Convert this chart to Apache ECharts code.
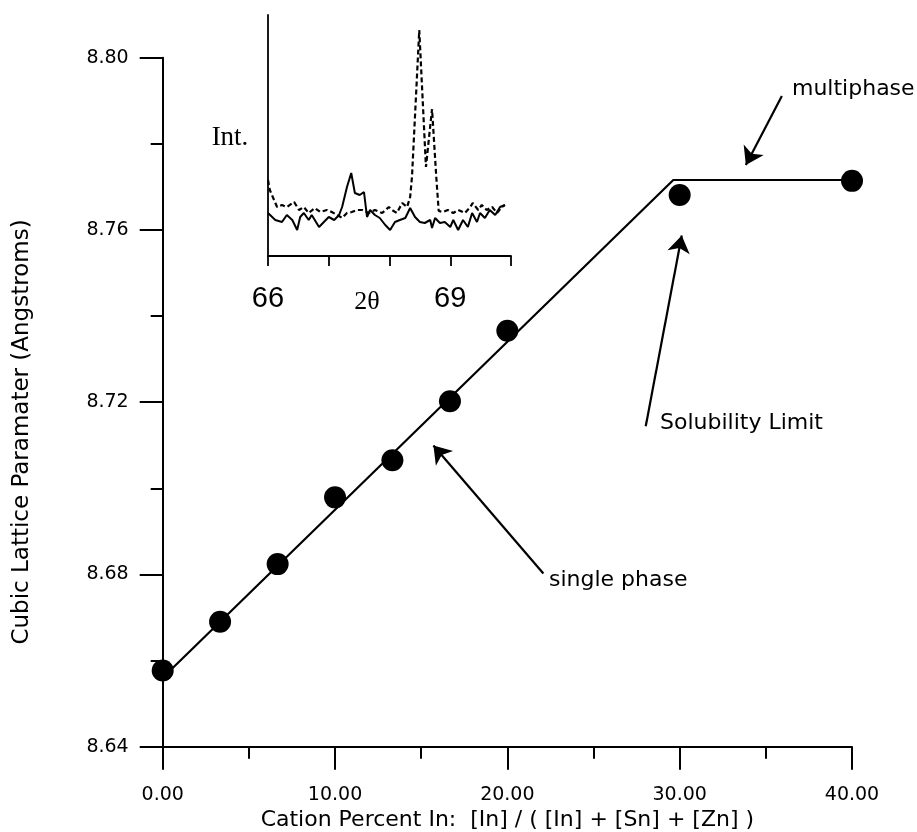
<!DOCTYPE html>
<html>
<head>
<meta charset="utf-8">
<script src="https://cdn.jsdelivr.net/npm/echarts@6/dist/echarts.min.js"></script>
<style>
html, body { margin: 0; padding: 0; background: #fff; }
#chart { width: 917px; height: 832px; }
</style>
</head>
<body>
<div id="chart"></div>
<script>
// main plot: lattice parameter vs cation percent In
var cationPct = [0, 3.33, 6.67, 10, 13.33, 16.67, 20, 30, 40];
var latticeParam = [8.6577, 8.669, 8.6824, 8.6979, 8.7065, 8.7202, 8.7366, 8.7681, 8.7714];
// guide line (single phase slope, then flat multiphase)
var fitX = [0, 29.63, 40];
var fitY = [8.656, 8.7716, 8.7716];

// inset XRD scans, 2-theta vs intensity (arbitrary)
var solidX = [66.00, 66.12, 66.23, 66.31, 66.40, 66.48, 66.53, 66.59, 66.67, 66.72, 66.84, 66.92, 67.00, 67.09, 67.17, 67.22, 67.30, 67.37, 67.43, 67.51, 67.58, 67.63, 67.68, 67.76, 67.84, 67.93, 68.01, 68.09, 68.17, 68.26, 68.34, 68.42, 68.50, 68.58, 68.67, 68.70, 68.75, 68.83, 68.91, 69.00, 69.05, 69.13, 69.21, 69.29, 69.36, 69.44, 69.49, 69.57, 69.65, 69.74, 69.82, 69.90];
var solidY = [43, 36, 34, 41, 36, 26, 39, 43, 36, 41, 29, 34, 39, 36, 41, 49, 69, 83, 63, 61, 64, 39, 46, 41, 38, 31, 26, 34, 36, 38, 48, 39, 34, 33, 36, 28, 38, 33, 34, 29, 36, 26, 36, 29, 43, 34, 43, 38, 46, 41, 49, 51];
var dashX = [66.00, 66.03, 66.10, 66.15, 66.23, 66.31, 66.43, 66.51, 66.59, 66.67, 66.77, 66.86, 66.97, 67.05, 67.14, 67.22, 67.30, 67.38, 67.47, 67.55, 67.66, 67.76, 67.88, 67.99, 68.04, 68.12, 68.21, 68.29, 68.34, 68.37, 68.49, 68.60, 68.70, 68.77, 68.81, 68.88, 68.96, 69.05, 69.13, 69.24, 69.33, 69.37, 69.46, 69.52, 69.60, 69.69, 69.77, 69.85, 69.90];
var dashY = [76, 66, 56, 49, 51, 49, 54, 46, 49, 43, 48, 44, 46, 44, 41, 38, 43, 44, 46, 46, 43, 46, 43, 49, 46, 43, 53, 49, 59, 79, 226, 89, 147, 79, 45, 44, 46, 43, 46, 43, 49, 53, 46, 51, 46, 49, 43, 49, 51];
var insetTickLabels = [66, 69];

// annotation arrows [tailX, tailY, headX, headY] in data units
var arrowMulti = [35.93, 8.7911, 33.84, 8.7751];
var arrowSolub = [28.03, 8.7144, 30.12, 8.7587];
var arrowSingle = [22.09, 8.6802, 15.71, 8.70996];

function pairs(xs, ys) {
    var out = [];
    for (var i = 0; i < xs.length; i++) out.push([xs[i], ys[i]]);
    return out;
}
function arrow(a) {
    return [{ coord: [a[0], a[1]] }, { coord: [a[2], a[3]] }];
}

var font = 'DejaVu Sans';
var chart = echarts.init(document.getElementById('chart'));

var option = {
    animation: false,
    backgroundColor: '#fff',
    grid: [
        { left: 162.7, right: 65, top: 57.7, bottom: 85.3, containLabel: false, outerBoundsMode: 'none' },
        { left: 268, top: 15, width: 243, height: 241, containLabel: false, outerBoundsMode: 'none' }
    ],
    xAxis: [{
        type: 'value', gridIndex: 0, min: 0, max: 40, interval: 10,
        name: 'Cation Percent In:  [In] / ( [In] + [Sn] + [Zn] )',
        nameLocation: 'middle', nameGap: 61,
        nameTextStyle: { fontFamily: font, fontSize: 22, color: '#000' },
        axisLine: { lineStyle: { color: '#000', width: 2 } },
        axisTick: { length: 23, lineStyle: { color: '#000', width: 2 } },
        minorTick: { show: true, splitNumber: 2, length: 12, lineStyle: { color: '#000', width: 2 } },
        splitLine: { show: false },
        axisLabel: { margin: 39, fontFamily: font, fontSize: 19, color: '#000',
            formatter: function(v) { return v.toFixed(2); } }
    }, {
        type: 'value', gridIndex: 1, min: 66, max: 70, interval: 1,
        axisLine: { lineStyle: { color: '#000', width: 1.8 } },
        axisTick: { length: 10, lineStyle: { color: '#000', width: 1.8 } },
        splitLine: { show: false },
        axisLabel: { margin: 28, fontFamily: 'Liberation Sans', fontSize: 29, color: '#000',
            formatter: function(v) { return insetTickLabels.indexOf(v) >= 0 ? String(v) : ''; } }
    }],
    yAxis: [{
        type: 'value', gridIndex: 0, min: 8.64, max: 8.80, interval: 0.04,
        axisLine: { show: true, lineStyle: { color: '#000', width: 2 } },
        axisTick: { show: true, length: 23, lineStyle: { color: '#000', width: 2 } },
        minorTick: { show: true, splitNumber: 2, length: 12, lineStyle: { color: '#000', width: 2 } },
        splitLine: { show: false },
        axisLabel: { margin: 34, fontFamily: font, fontSize: 19, color: '#000',
            formatter: function(v) { return v.toFixed(2); } }
    }, {
        type: 'value', gridIndex: 1, min: 0, max: 241,
        axisLine: { show: true, lineStyle: { color: '#000', width: 1.8 } },
        axisTick: { show: false },
        axisLabel: { show: false },
        splitLine: { show: false }
    }],
    series: [{
        type: 'line', xAxisIndex: 0, yAxisIndex: 0,
        data: pairs(fitX, fitY), showSymbol: false, symbol: 'none',
        lineStyle: { color: '#000', width: 2.2 }, z: 2,
        markLine: {
            silent: true, symbol: ['none', 'arrow'], symbolSize: 17,
            label: { show: false },
            lineStyle: { color: '#000', width: 2.2, type: 'solid' },
            data: [arrow(arrowMulti), arrow(arrowSolub), arrow(arrowSingle)]
        }
    }, {
        type: 'scatter', xAxisIndex: 0, yAxisIndex: 0,
        data: pairs(cationPct, latticeParam), symbol: 'circle', symbolSize: 22,
        itemStyle: { color: '#000', opacity: 1 }, z: 3
    }, {
        type: 'line', xAxisIndex: 1, yAxisIndex: 1,
        data: pairs(solidX, solidY), symbol: 'none',
        lineStyle: { color: '#000', width: 2 }
    }, {
        type: 'line', xAxisIndex: 1, yAxisIndex: 1,
        data: pairs(dashX, dashY), symbol: 'none',
        lineStyle: { color: '#000', width: 2.2, type: [5, 3] }
    }],
    graphic: [
        { type: 'text', x: 22, y: 432, rotation: Math.PI / 2,
          style: { text: 'Cubic Lattice Paramater (Angstroms)', fontFamily: font, fontSize: 23, fill: '#000',
                   align: 'center', verticalAlign: 'middle' } },
        { type: 'text', x: 230, y: 138,
          style: { text: 'Int.', fontFamily: 'Liberation Serif', fontSize: 27, fill: '#000',
                   align: 'center', verticalAlign: 'middle' } },
        { type: 'text', x: 367, y: 302,
          style: { text: '2\u03b8', fontFamily: 'Liberation Serif', fontSize: 26, fill: '#000',
                   align: 'center', verticalAlign: 'middle' } },
        { type: 'text', x: 792, y: 89,
          style: { text: 'multiphase', fontFamily: font, fontSize: 22, fill: '#000',
                   align: 'left', verticalAlign: 'middle' } },
        { type: 'text', x: 660, y: 423,
          style: { text: 'Solubility Limit', fontFamily: font, fontSize: 22, fill: '#000',
                   align: 'left', verticalAlign: 'middle' } },
        { type: 'text', x: 549, y: 580,
          style: { text: 'single phase', fontFamily: font, fontSize: 22, fill: '#000',
                   align: 'left', verticalAlign: 'middle' } }
    ]
};
chart.setOption(option);
</script>
</body>
</html>
